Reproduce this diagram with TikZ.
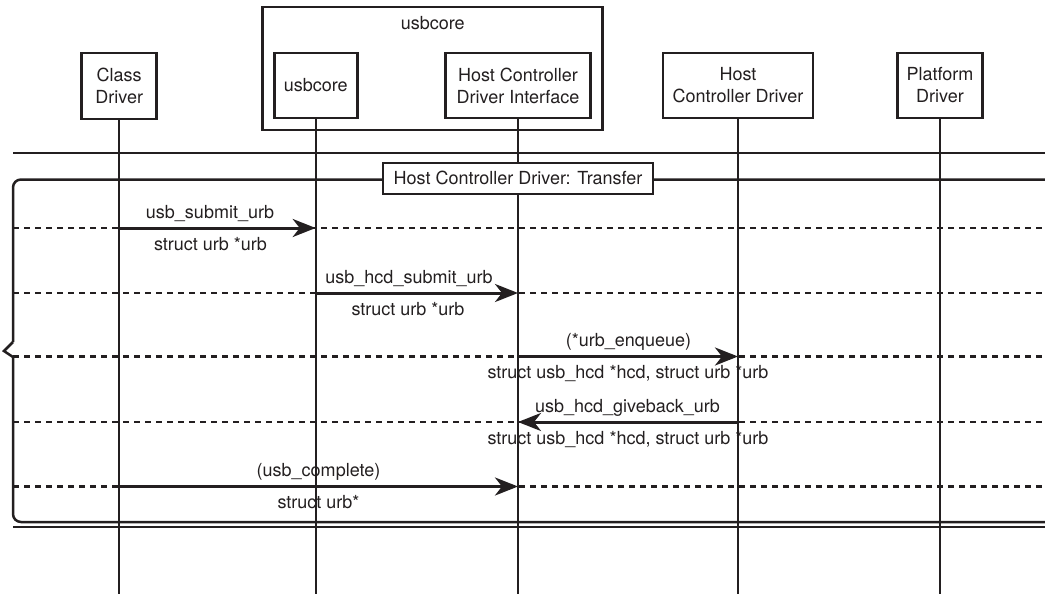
\documentclass[tikz,border=0pt]{standalone}
\usepackage{fontspec}
\setmainfont{TeX Gyre Heros}
\usetikzlibrary{arrows.meta}
\definecolor{ink}{HTML}{231F20}
\begin{document}
\begin{tikzpicture}[x=1pt,y=-1pt,
  font=\fontsize{18}{22}\selectfont,
  every node/.style={text=ink},
  box/.style={draw=ink, line width=2.8pt, fill=white, inner sep=0pt, align=center},
  life/.style={draw=ink, line width=2.4pt},
  sepline/.style={draw=ink, line width=2.6pt, dash pattern=on 6pt off 5pt},
  msg/.style={draw=ink, line width=3pt, -{Stealth[length=23pt,width=18pt,inset=7pt]}},
  rulel/.style={draw=ink, line width=2.5pt},
  lbl/.style={anchor=base, inner sep=0pt}]
\useasboundingbox (0,0) rectangle (1045,597);

% message rows
\coordinate (m1) at (0,228);
\coordinate (m2) at (0,293);
\coordinate (m3) at (0,356.5);
\coordinate (m4) at (0,422);
\coordinate (m5) at (0,486.5);
\coordinate (fl) at (13,0);
\coordinate (fr) at (1045,0);
\coordinate (bot) at (0,594);

% heads
\node[box, minimum width=340pt, minimum height=123pt] (outer) at (432.7,68.5) {};
\node[lbl] (outerlbl) at (432.7,29) {usbcore};
\node[box, minimum width=75pt, minimum height=66pt] (cd) at (119.2,86) {Class\\Driver};
\node[box, minimum width=83pt, minimum height=65pt] (uc) at (315.7,85.5) {usbcore};
\node[box, minimum width=145pt, minimum height=65pt] (hcdi) at (518,85.5) {Host Controller\\Driver Interface};
\node[box, minimum width=150pt, minimum height=65pt] (hcd) at (738,85.5) {Host\\Controller Driver};
\node[box, minimum width=85pt, minimum height=65pt] (pd) at (940,85.5) {Platform\\Driver};

% separators
\foreach \m in {m1,m2,m4,m5} \draw[sepline] (fl |- \m) -- (fr |- \m);
\draw[sepline] (13,356.5) -- (fr |- m3);

% frame rules
\draw[rulel] (13,153) -- (1045,153);
\draw[rulel] (13,527) -- (1045,527);
\draw[rulel, rounded corners=8pt] (1045,179.5) -- (13,179.5) -- (13,342);
\draw[rulel] (13,342) -- (4,351) -- (13,357);
\draw[rulel, rounded corners=8pt] (13,357) -- (13,522) -- (1045,522);

% lifelines
\foreach \n in {cd,uc,hcdi,hcd,pd} \draw[life] (\n.south) -- (\n.south |- bot);

% title of frame
\node[box, minimum width=270pt, minimum height=31pt] (title) at (518,178.4) {Host Controller Driver: Transfer};

% messages
\draw[msg] (cd.south |- m1) -- (uc.south |- m1);
\draw[msg] (uc.south |- m2) -- (hcdi.south |- m2);
\draw[msg] (hcdi.south |- m3) -- (hcd.south |- m3);
\draw[msg] (hcd.south |- m4) -- (hcdi.south |- m4);
\draw[msg] (cd.south |- m5) -- (hcdi.south |- m5);

% labels
\node[lbl] (a1) at (210,218) {usb\_submit\_urb};
\node[lbl] (b1) at (210.5,250) {struct urb *urb};
\node[lbl] (a2) at (409,283) {usb\_hcd\_submit\_urb};
\node[lbl] (b2) at (408,315) {struct urb *urb};
\node[lbl] (a3) at (628.5,346.5) {(*urb\_enqueue)};
\node[lbl] (b3) at (628,378.5) {struct usb\_hcd *hcd, struct urb *urb};
\node[lbl] (a4) at (627.5,412) {usb\_hcd\_giveback\_urb};
\node[lbl] (b4) at (628,444) {struct usb\_hcd *hcd, struct urb *urb};
\node[lbl] (a5) at (318.5,476.5) {(usb\_complete)};
\node[lbl] (b5) at (318.5,508.5) {struct urb*};
\end{tikzpicture}
\end{document}
